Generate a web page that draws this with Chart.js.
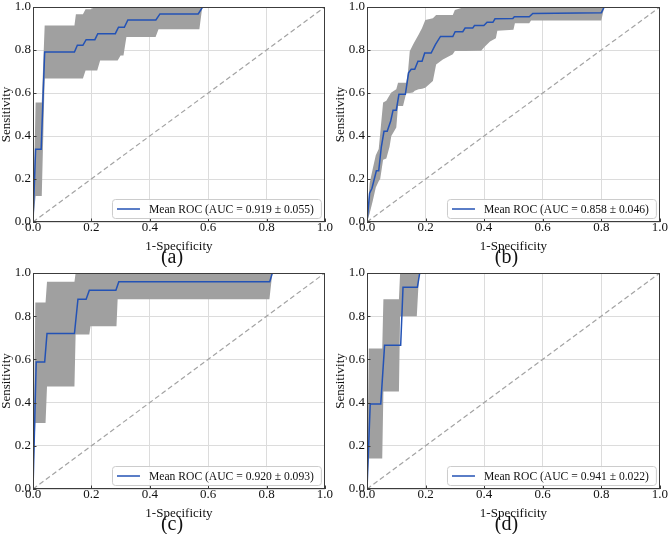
<!DOCTYPE html>
<html>
<head>
<meta charset="utf-8">
<script src="https://cdn.jsdelivr.net/npm/chart.js@4.4.0/dist/chart.umd.min.js"></script>
<style>
  body { margin: 0; background: #fff; }
  #figure { position: relative; width: 669px; height: 535px; background: #fff; }
  #figure canvas { position: absolute; }
</style>
</head>
<body>
<div id="figure">
  <canvas id="roc-a" width="334" height="267" style="left:0;top:0"></canvas>
  <canvas id="roc-b" width="335" height="267" style="left:334px;top:0"></canvas>
  <canvas id="roc-c" width="334" height="268" style="left:0;top:266px"></canvas>
  <canvas id="roc-d" width="335" height="268" style="left:334px;top:266px"></canvas>
</div>
<script>
const tickValues = [0.0, 0.2, 0.4, 0.6, 0.8, 1.0];
const xTitle = '1-Specificity';
const yTitle = 'Sensitivity';
const panelLabels = ['(a)', '(b)', '(c)', '(d)'];
const legendLabels = [
    'Mean ROC (AUC = 0.919 ± 0.055)',
    'Mean ROC (AUC = 0.858 ± 0.046)',
    'Mean ROC (AUC = 0.920 ± 0.093)',
    'Mean ROC (AUC = 0.941 ± 0.022)'
];
const chanceX = [0, 1];
const chanceY = [0, 1];

// (a)
const meanFprA = [0, 0.009, 0.028, 0.04, 0.142, 0.152, 0.171, 0.182, 0.212, 0.222, 0.282, 0.293, 0.313, 0.325, 0.421, 0.435, 0.566, 0.581, 1.0];
const meanTprA = [0, 0.338, 0.338, 0.791, 0.791, 0.822, 0.822, 0.848, 0.848, 0.876, 0.876, 0.906, 0.906, 0.94, 0.94, 0.968, 0.968, 1.0, 1.0];
const bandFprA = [0, 0.009, 0.03, 0.04, 0.142, 0.147, 0.171, 0.18, 0.199, 0.21, 0.22, 0.23, 0.29, 0.30, 0.31, 0.32, 0.42, 0.43, 0.57, 0.58, 1.0];
const upperA = [0, 0.556, 0.556, 0.914, 0.914, 0.966, 0.966, 0.99, 0.99, 1, 1, 1, 1, 1, 1, 1, 1, 1, 1, 1, 1];
const lowerA = [0, 0.121, 0.121, 0.667, 0.667, 0.667, 0.667, 0.705, 0.705, 0.705, 0.705, 0.751, 0.751, 0.774, 0.774, 0.86, 0.86, 0.897, 0.897, 1, 1];

// (b)
const meanFprB = [0, 0.009, 0.017, 0.032, 0.04, 0.049, 0.058, 0.069, 0.081, 0.089, 0.10, 0.109, 0.131, 0.142, 0.151, 0.163, 0.174, 0.188, 0.197, 0.219, 0.234, 0.251, 0.293, 0.301, 0.327, 0.335, 0.361, 0.367, 0.399, 0.41, 0.43, 0.437, 0.498, 0.503, 0.554, 0.566, 0.80, 0.81, 1.0];
const meanTprB = [0, 0.134, 0.157, 0.238, 0.238, 0.35, 0.422, 0.422, 0.47, 0.52, 0.52, 0.594, 0.594, 0.694, 0.71, 0.71, 0.748, 0.748, 0.786, 0.786, 0.826, 0.863, 0.863, 0.885, 0.885, 0.902, 0.902, 0.914, 0.914, 0.929, 0.929, 0.945, 0.947, 0.955, 0.955, 0.97, 0.973, 1.0, 1.0];
const bandFprB = [0, 0.009, 0.02, 0.03, 0.04, 0.045, 0.055, 0.066, 0.077, 0.083, 0.10, 0.106, 0.123, 0.134, 0.14, 0.146, 0.157, 0.163, 0.176, 0.188, 0.199, 0.225, 0.236, 0.259, 0.293, 0.3, 0.333, 0.39, 0.40, 0.42, 0.44, 0.445, 0.5, 0.505, 0.554, 0.56, 0.80, 0.81, 1.0];
const upperB = [0, 0.18, 0.25, 0.31, 0.34, 0.41, 0.556, 0.564, 0.59, 0.602, 0.617, 0.648, 0.648, 0.648, 0.70, 0.794, 0.825, 0.84, 0.871, 0.902, 0.94, 0.948, 0.963, 0.963, 0.963, 0.986, 1, 1, 1, 1, 1, 1, 1, 1, 1, 1, 1, 1, 1];
const lowerB = [0, 0.04, 0.10, 0.16, 0.19, 0.20, 0.29, 0.295, 0.35, 0.40, 0.44, 0.54, 0.54, 0.60, 0.60, 0.60, 0.602, 0.61, 0.617, 0.62, 0.625, 0.656, 0.733, 0.756, 0.78, 0.795, 0.795, 0.797, 0.813, 0.84, 0.855, 0.89, 0.894, 0.924, 0.924, 0.937, 0.937, 1, 1];

// (c)
const meanFprC = [0, 0.011, 0.04, 0.048, 0.142, 0.154, 0.182, 0.193, 0.284, 0.294, 0.811, 0.82, 1.0];
const meanTprC = [0, 0.588, 0.588, 0.72, 0.72, 0.879, 0.879, 0.92, 0.92, 0.96, 0.96, 1.0, 1.0];
const bandFprC = [0, 0.008, 0.043, 0.048, 0.142, 0.146, 0.193, 0.197, 0.286, 0.29, 0.81, 0.82, 1.0];
const upperC = [0, 0.864, 0.864, 0.96, 0.96, 1, 1, 1, 1, 1, 1, 1, 1];
const lowerC = [0, 0.306, 0.306, 0.475, 0.475, 0.715, 0.715, 0.753, 0.753, 0.879, 0.879, 1, 1];

// (d)
const meanFprD = [0, 0.011, 0.047, 0.06, 0.115, 0.123, 0.172, 0.18, 1.0];
const meanTprD = [0, 0.394, 0.394, 0.665, 0.665, 0.934, 0.934, 1.0, 1.0];
const bandFprD = [0, 0.006, 0.052, 0.056, 0.109, 0.113, 0.17, 0.178, 1.0];
const upperD = [0, 0.65, 0.65, 0.879, 0.879, 1, 1, 1, 1];
const lowerD = [0, 0.141, 0.141, 0.451, 0.451, 0.80, 0.80, 1, 1];

const lineBlue = '#2352b5';
const bandGrey = '#a0a0a0';
const gridGrey = '#dcdcdc';
const serif = '"Liberation Serif", "Times New Roman", serif';

// frame, inward ticks, legend box and the (a)/(b)... label
const rocDecor = {
    id: 'rocDecor',
    afterDraw(chart, args, opts) {
        const ctx = chart.ctx;
        const area = chart.chartArea;
        const xs = chart.scales.x;
        const ys = chart.scales.y;
        ctx.save();

        ctx.strokeStyle = '#3c3c3c';
        ctx.lineWidth = 1;
        ctx.strokeRect(Math.round(area.left) + 0.5, Math.round(area.top) + 0.5,
            Math.round(area.right - area.left) - 1, Math.round(area.bottom - area.top) - 1);

        ctx.beginPath();
        tickValues.forEach(v => {
            const px = Math.round(xs.getPixelForValue(v)) + 0.5;
            ctx.moveTo(px, area.bottom);
            ctx.lineTo(px, area.bottom - 3.5);
            const py = Math.round(ys.getPixelForValue(v)) + 0.5;
            ctx.moveTo(area.left, py);
            ctx.lineTo(area.left + 3.5, py);
        });
        ctx.stroke();

        ctx.font = '11.6px ' + serif;
        const textWidth = ctx.measureText(opts.legend).width;
        const bw = 5 + 23 + 9 + textWidth + 7;
        const bh = 19;
        const bx = area.right - 4 - bw;
        const by = area.bottom - 4 - bh;
        ctx.beginPath();
        ctx.roundRect(bx + 0.5, by + 0.5, bw, bh, 3);
        ctx.fillStyle = 'rgba(255,255,255,0.85)';
        ctx.fill();
        ctx.strokeStyle = '#cccccc';
        ctx.stroke();

        ctx.beginPath();
        ctx.moveTo(bx + 5, by + bh / 2 + 0.5);
        ctx.lineTo(bx + 28, by + bh / 2 + 0.5);
        ctx.strokeStyle = lineBlue;
        ctx.lineWidth = 1.5;
        ctx.stroke();

        ctx.fillStyle = '#111';
        ctx.textAlign = 'left';
        ctx.textBaseline = 'middle';
        ctx.fillText(opts.legend, bx + 37, by + bh / 2 + 1);

        ctx.font = '20px ' + serif;
        ctx.textAlign = 'center';
        ctx.fillText(opts.panel, chart.width / 2 + 5, chart.height - 9);
        ctx.restore();
    }
};

function toPoints(xs, ys) {
    return xs.map((x, i) => ({ x: x, y: ys[i] }));
}

function drawRocPanel(canvasId, meanFpr, meanTpr, bandFpr, upper, lower, legendText, panelLabel) {
    const tickFont = { family: serif, size: 13, lineHeight: 0.77 };
    const titleFont = { family: serif, size: 13, lineHeight: 1 };
    new Chart(document.getElementById(canvasId), {
        type: 'line',
        data: {
            datasets: [
                {
                    label: legendText,
                    data: toPoints(meanFpr, meanTpr),
                    borderColor: lineBlue,
                    borderWidth: 1.5,
                    pointRadius: 0,
                    fill: false
                },
                {
                    label: 'chance',
                    data: toPoints(chanceX, chanceY),
                    borderColor: '#a3a3a3',
                    borderWidth: 1.2,
                    borderDash: [5, 3],
                    pointRadius: 0,
                    fill: false
                },
                {
                    label: 'upper',
                    data: toPoints(bandFpr, upper),
                    borderColor: 'rgba(0,0,0,0)',
                    borderWidth: 0,
                    pointRadius: 0,
                    backgroundColor: bandGrey,
                    fill: '+1'
                },
                {
                    label: 'lower',
                    data: toPoints(bandFpr, lower),
                    borderColor: 'rgba(0,0,0,0)',
                    borderWidth: 0,
                    pointRadius: 0,
                    fill: false
                }
            ]
        },
        options: {
            responsive: false,
            animation: false,
            layout: { padding: { top: 0, right: 8, left: 0, bottom: 0 } },
            plugins: {
                legend: { display: false },
                tooltip: { enabled: false },
                rocDecor: { legend: legendText, panel: panelLabel }
            },
            scales: {
                x: {
                    type: 'linear',
                    min: 0,
                    max: 1,
                    afterBuildTicks: scale => { scale.ticks = tickValues.map(v => ({ value: v })); },
                    afterFit: scale => { scale.height = 45; },
                    grid: { color: gridGrey, drawTicks: false },
                    border: { display: false },
                    ticks: { padding: 1, color: '#111', font: tickFont, maxRotation: 0, callback: v => v.toFixed(1) },
                    title: { display: true, text: xTitle, color: '#111', font: titleFont, padding: { top: 0, bottom: 14 } }
                },
                y: {
                    type: 'linear',
                    min: 0,
                    max: 1,
                    afterBuildTicks: scale => { scale.ticks = tickValues.map(v => ({ value: v })); },
                    afterFit: scale => { scale.width = 33; },
                    grid: { color: gridGrey, drawTicks: false },
                    border: { display: false },
                    ticks: { padding: 2, color: '#111', font: tickFont, callback: v => v.toFixed(1) },
                    title: { display: true, text: yTitle, color: '#111', font: titleFont, padding: { top: 0, bottom: 0 } }
                }
            }
        },
        plugins: [rocDecor]
    });
}

drawRocPanel('roc-a', meanFprA, meanTprA, bandFprA, upperA, lowerA, legendLabels[0], panelLabels[0]);
drawRocPanel('roc-b', meanFprB, meanTprB, bandFprB, upperB, lowerB, legendLabels[1], panelLabels[1]);
drawRocPanel('roc-c', meanFprC, meanTprC, bandFprC, upperC, lowerC, legendLabels[2], panelLabels[2]);
drawRocPanel('roc-d', meanFprD, meanTprD, bandFprD, upperD, lowerD, legendLabels[3], panelLabels[3]);
</script>
</body>
</html>
